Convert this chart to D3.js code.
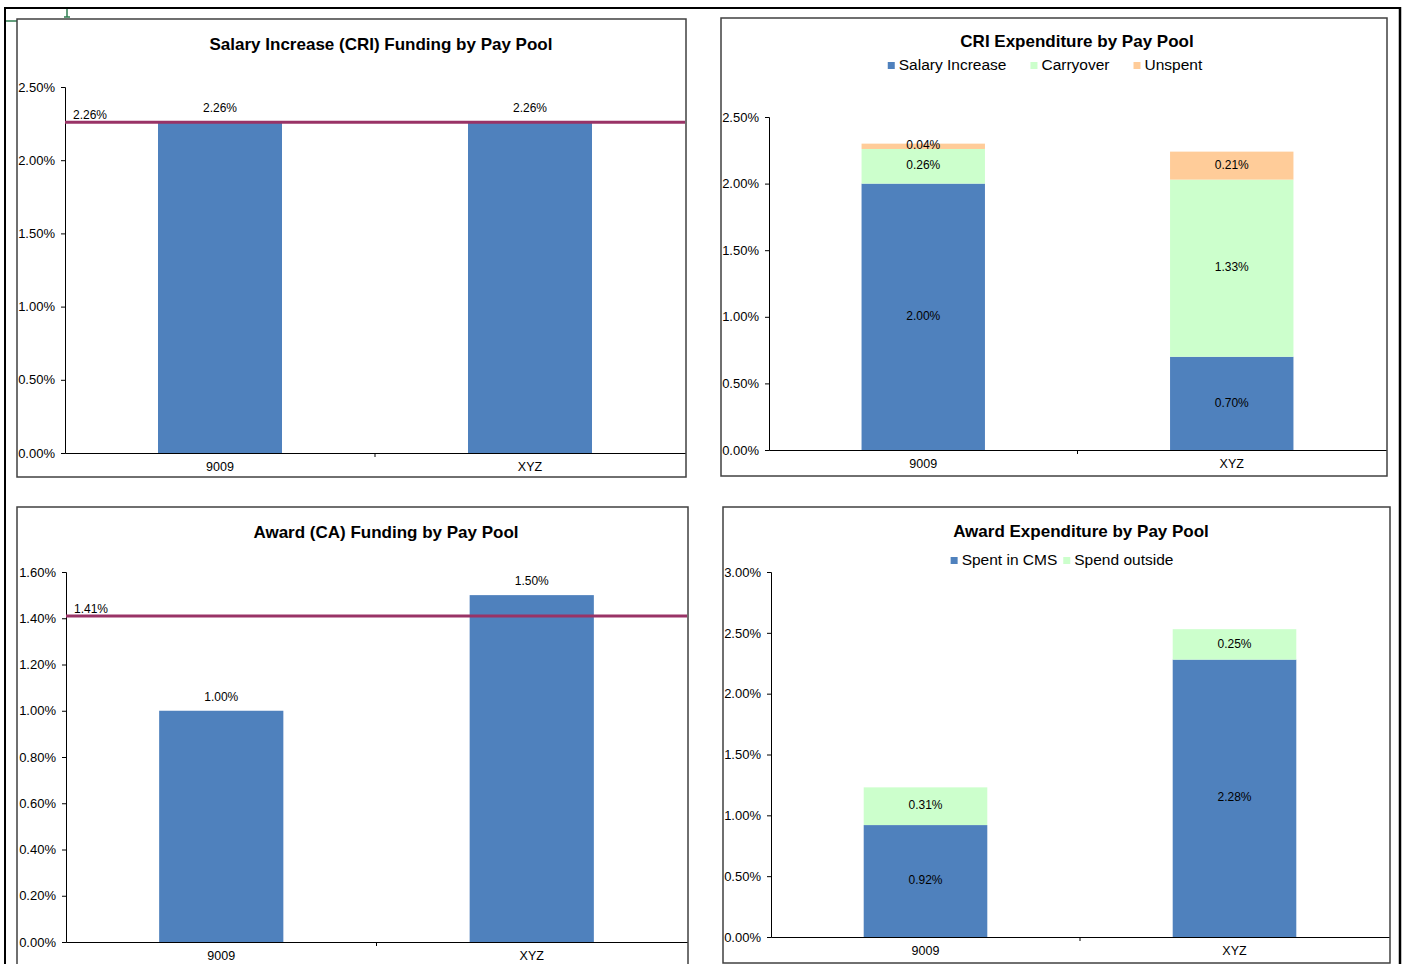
<!DOCTYPE html>
<html><head><meta charset="utf-8">
<script src="https://cdn.jsdelivr.net/npm/d3@7"></script>
<style>
html,body{margin:0;padding:0;background:#fff;}
svg{display:block;font-family:"Liberation Sans",Arial,sans-serif;}
</style></head>
<body><svg id="c" width="1409" height="964"></svg>
<script>
// ---- data ----
const categories = ["9009", "XYZ"];
const criFunding = [2.26, 2.26];
const criFundingTarget = 2.26;
const criTicks = [0, 0.5, 1.0, 1.5, 2.0, 2.5];
const criSalaryIncrease = [2.00, 0.70];
const criCarryover = [0.26, 1.33];
const criUnspent = [0.04, 0.21];
const awardFunding = [1.00, 1.50];
const awardFundingTarget = 1.41;
const awardFundingTicks = [0, 0.2, 0.4, 0.6, 0.8, 1.0, 1.2, 1.4, 1.6];
const awardSpentInCMS = [0.92, 2.28];
const awardSpendOutside = [0.31, 0.25];
const awardExpTicks = [0, 0.5, 1.0, 1.5, 2.0, 2.5, 3.0];

const BLUE = "#4F81BD", GREEN = "#CCFFCC", ORANGE = "#FFCC99", LINE = "#993366";
const svg = d3.select("#c");

// outer frame
svg.append("line").attr("x1",4).attr("x2",1401).attr("y1",8).attr("y2",8).attr("stroke","#000").attr("stroke-width",2);
svg.append("line").attr("x1",5).attr("x2",5).attr("y1",7).attr("y2",964).attr("stroke","#000").attr("stroke-width",2);
svg.append("line").attr("x1",1400).attr("x2",1400).attr("y1",7).attr("y2",964).attr("stroke","#000").attr("stroke-width",2.5);
// small green selection marks
svg.append("line").attr("x1",6).attr("x2",17).attr("y1",21).attr("y2",21).attr("stroke","#2E7D4F").attr("stroke-width",1.5);
svg.append("line").attr("x1",67).attr("x2",67).attr("y1",9).attr("y2",17).attr("stroke","#2E7D4F").attr("stroke-width",1.5);
svg.append("line").attr("x1",64).attr("x2",70).attr("y1",17).attr("y2",17).attr("stroke","#2E7D4F").attr("stroke-width",1.5);

function panel(cfg) {
  const g = svg.append("g");
  const b = cfg.box;
  g.append("rect").attr("x",b[0]).attr("y",b[1]).attr("width",b[2]-b[0]).attr("height",b[3]-b[1])
    .attr("fill","#fff").attr("stroke","#404040").attr("stroke-width",1.5);
  g.append("text").attr("x",cfg.titleX).attr("y",cfg.titleY).attr("text-anchor","middle")
    .attr("dominant-baseline","middle").attr("font-weight","bold").attr("font-size",17).attr("fill","#000").text(cfg.title);

  const p = cfg.plot;
  const y = d3.scaleLinear().domain([0, cfg.ticks[cfg.ticks.length-1]]).range([p.bottom, p.top]);
  const x = d3.scaleBand().domain(categories).range([p.left, p.right]).paddingInner(0.6).paddingOuter(0.3);

  // bars
  const keys = cfg.series.map(s => s.name);
  const rows = categories.map((c,i) => { const r = {cat:c}; cfg.series.forEach(s => r[s.name] = s.values[i]); return r; });
  const stacked = d3.stack().keys(keys)(rows);
  stacked.forEach((layer, li) => {
    const s = cfg.series[li];
    g.selectAll(null).data(layer).enter().append("rect")
      .attr("x", d => x(d.data.cat)).attr("width", x.bandwidth())
      .attr("y", d => y(d[1])).attr("height", d => y(d[0]) - y(d[1]))
      .attr("fill", s.color);
    g.selectAll(null).data(layer).enter().append("text")
      .attr("x", d => x(d.data.cat) + x.bandwidth()/2)
      .attr("y", d => cfg.labelAbove ? y(d[1]) - 13 : (y(d[0]) + y(d[1]))/2)
      .attr("text-anchor","middle").attr("dominant-baseline","middle")
      .attr("font-size",12).attr("fill","#000")
      .text(d => (d[1]-d[0]).toFixed(2) + "%");
  });

  // y axis
  const ya = g.append("g").attr("transform",`translate(${p.left},0)`)
    .call(d3.axisLeft(y).tickValues(cfg.ticks).tickSize(4).tickPadding(6).tickFormat(d => d.toFixed(2) + "%"));
  ya.selectAll("path,line").attr("stroke","#000");
  ya.selectAll("text").attr("font-size",13).attr("fill","#000").attr("font-family","Liberation Sans, Arial, sans-serif");

  // x axis
  const xa = g.append("g").attr("transform",`translate(0,${p.bottom})`)
    .call(d3.axisBottom(x).tickSize(0).tickPadding(9));
  xa.select(".domain").attr("stroke","#000");
  xa.selectAll("text").attr("font-size",12.5).attr("fill","#000").attr("font-family","Liberation Sans, Arial, sans-serif");
  const mid = x(categories[1]) - x.step()*x.paddingInner()/2;
  g.append("line").attr("x1",mid).attr("x2",mid).attr("y1",p.bottom).attr("y2",p.bottom+4).attr("stroke","#000");

  // target line
  if (cfg.target !== undefined) {
    g.append("line").attr("x1",p.left).attr("x2",p.right).attr("y1",y(cfg.target)).attr("y2",y(cfg.target))
      .attr("stroke",LINE).attr("stroke-width",3);
    g.append("text").attr("x",p.left+8).attr("y",y(cfg.target)-6).attr("dominant-baseline","middle")
      .attr("font-size",12).attr("fill","#000")
      .text(cfg.target.toFixed(2) + "%");
  }

  // legend
  if (cfg.legend) {
    const lg = g.append("g");
    let cx = 0;
    cfg.series.forEach((s, i) => {
      lg.append("rect").attr("x",cx).attr("y",-4).attr("width",7).attr("height",7).attr("fill",s.color);
      const t = lg.append("text").attr("x",cx+11).attr("y",0).attr("dominant-baseline","middle")
        .attr("font-size",15.5).attr("fill","#000").text(s.name);
      cx += 11 + t.node().getComputedTextLength() + cfg.legendGap;
    });
    const w = cx - cfg.legendGap;
    lg.attr("transform",`translate(${cfg.legendX - w/2},${cfg.legendY})`);
  }
}

panel({
  box:[17,19,686,477], title:"Salary Increase (CRI) Funding by Pay Pool", titleX:381, titleY:46,
  plot:{left:65, right:685, top:87, bottom:453}, ticks:criTicks,
  series:[{name:"Funding", values:criFunding, color:BLUE}], labelAbove:true, target:criFundingTarget
});
panel({
  box:[721,18,1387,476], title:"CRI Expenditure by Pay Pool", titleX:1077, titleY:43,
  plot:{left:769, right:1386, top:117, bottom:450}, ticks:criTicks,
  series:[{name:"Salary Increase", values:criSalaryIncrease, color:BLUE},
          {name:"Carryover", values:criCarryover, color:GREEN},
          {name:"Unspent", values:criUnspent, color:ORANGE}],
  legend:true, legendX:1045, legendY:66, legendGap:24
});
panel({
  box:[17,507,688,972], title:"Award (CA) Funding by Pay Pool", titleX:386, titleY:534,
  plot:{left:66, right:687, top:572, bottom:942}, ticks:awardFundingTicks,
  series:[{name:"Funding", values:awardFunding, color:BLUE}], labelAbove:true, target:awardFundingTarget
});
panel({
  box:[723,507,1390,963], title:"Award Expenditure by Pay Pool", titleX:1081, titleY:533,
  plot:{left:771, right:1389, top:572, bottom:937}, ticks:awardExpTicks,
  series:[{name:"Spent in CMS", values:awardSpentInCMS, color:BLUE},
          {name:"Spend outside", values:awardSpendOutside, color:GREEN}],
  legend:true, legendX:1062, legendY:561, legendGap:6
});
</script></body></html>
